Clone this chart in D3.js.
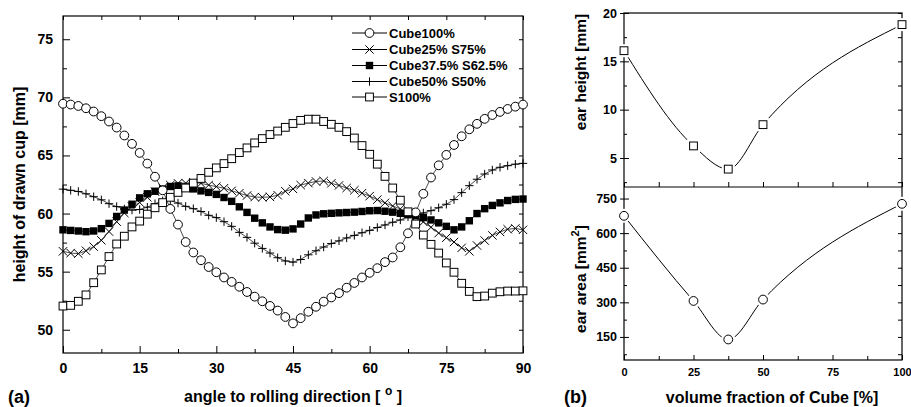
<!DOCTYPE html>
<html>
<head>
<meta charset="utf-8">
<script src="https://cdn.jsdelivr.net/npm/d3@7"></script>
<style>
  body { margin: 0; background: #fff; }
  svg text { font-family: "Liberation Sans", Arial, sans-serif; font-weight: bold; fill: #000; }
</style>
</head>
<body>
<div id="chart"></div>
<script>
// (a) cup height vs angle
var angles = [0,1.5,3,4.5,6,7.5,9,10.5,12,13.5,15,16.5,18,19.5,21,22.5,24,25.5,27,28.5,30,31.5,33,34.5,36,37.5,39,40.5,42,43.5,45,46.5,48,49.5,51,52.5,54,55.5,57,58.5,60,61.5,63,64.5,66,67.5,69,70.5,72,73.5,75,76.5,78,79.5,81,82.5,84,85.5,87,88.5,90];

var cube100 = [69.45,69.38,69.26,69.06,68.78,68.38,67.92,67.4,66.72,66.0,65.22,64.3,63.17,62.0,60.4,59.05,57.55,56.65,55.98,55.4,54.95,54.5,54.12,53.7,53.25,52.85,52.45,52.05,51.65,51.1,50.55,51.0,51.55,51.98,52.42,52.78,53.15,53.62,54.03,54.5,54.9,55.3,55.82,56.22,57.1,58.3,60.1,61.7,63.1,64.15,65.05,65.9,66.65,67.25,67.72,68.15,68.48,68.75,69.0,69.2,69.38];
var cube25 = [56.75,56.6,56.55,56.8,57.15,57.7,58.45,59.3,60.05,60.6,60.95,61.4,61.88,62.2,62.45,62.6,62.62,62.68,62.6,62.45,62.32,62.18,61.96,61.75,61.55,61.42,61.4,61.43,61.58,61.92,62.12,62.45,62.62,62.76,62.8,62.6,62.42,62.2,62.0,61.75,61.5,61.2,60.92,60.65,60.4,60.05,59.68,59.28,58.82,58.32,57.92,57.55,57.05,56.75,57.25,57.68,58.12,58.42,58.65,58.72,58.6];
var cube375 = [58.6,58.55,58.5,58.44,58.5,58.7,59.15,59.75,60.3,60.8,61.35,61.7,61.92,62.1,62.33,62.38,62.28,62.12,61.95,61.82,61.65,61.38,61.05,60.58,60.1,59.6,59.2,58.85,58.62,58.57,58.68,59.1,59.62,59.88,59.98,60.02,60.06,60.09,60.12,60.18,60.24,60.26,60.2,60.12,60.02,59.9,59.82,59.65,59.45,59.2,58.9,58.6,58.85,59.38,60.0,60.42,60.7,60.92,61.12,61.22,61.25];
var cube50 = [62.1,62.0,61.9,61.7,61.45,61.18,60.85,60.6,60.4,60.3,60.35,60.55,60.85,61.1,61.15,60.9,60.62,60.42,60.18,59.85,59.65,59.3,58.9,58.38,57.95,57.45,57.0,56.6,56.2,55.92,55.82,56.05,56.45,56.8,57.12,57.42,57.65,57.9,58.12,58.35,58.55,58.8,59.02,59.25,59.45,59.72,59.9,60.05,60.25,60.5,60.8,61.2,61.8,62.4,62.95,63.4,63.75,63.98,64.12,64.25,64.32];
var s100 = [52.04,52.1,52.45,53.0,54.05,55.15,56.3,57.38,58.05,58.85,59.35,59.95,60.5,60.94,61.4,61.82,62.2,62.62,63.02,63.55,63.93,64.3,64.72,65.25,65.65,66.08,66.45,66.8,67.1,67.42,67.75,68.02,68.12,68.12,67.92,67.68,67.42,67.05,66.5,65.85,65.1,64.25,63.2,62.2,61.15,60.15,59.1,58.15,57.35,56.6,55.75,54.95,54.0,53.3,52.85,52.9,53.15,53.27,53.33,53.33,53.35];

var seriesNames = ["Cube100%", "Cube25% S75%", "Cube37.5% S62.5%", "Cube50% S50%", "S100%"];
var seriesMarks = ["circle", "x", "fsquare", "plus", "square"];
var seriesValues = [cube100, cube25, cube375, cube50, s100];

var xTicksA = [0, 15, 30, 45, 60, 75, 90];
var yTicksA = [50, 55, 60, 65, 70, 75];

// (b) ear height / ear area vs cube fraction
var fractions = [0, 25, 37.5, 50, 100];
var earHeight = [16.1, 6.25, 3.85, 8.45, 18.8];
var earArea = [675, 306, 139, 312, 727];
var xTicksB = [0, 25, 50, 75, 100];
var yTicksHeight = [5, 10, 15, 20];
var yTicksArea = [150, 300, 450, 600, 750];

var W = 911, H = 407;
var svg = d3.select("#chart").append("svg").attr("width", W).attr("height", H);

// marker path drawing
function markPath(type, s) {
    if (type == "x") return "M" + (-s) + "," + (-s) + "L" + s + "," + s + "M" + (-s) + "," + s + "L" + s + "," + (-s);
    if (type == "plus") return "M" + (-s) + ",0L" + s + ",0M0," + (-s) + "L0," + s;
    return null;
}

function drawMark(g, type, x, y) {
    if (type == "circle") {
        g.append("circle").attr("cx", x).attr("cy", y).attr("r", 4.4)
            .attr("fill", "#fff").attr("stroke", "#000").attr("stroke-width", 1);
    }
    else if (type == "square") {
        g.append("rect").attr("x", x - 3.9).attr("y", y - 3.9).attr("width", 7.8).attr("height", 7.8)
            .attr("fill", "#fff").attr("stroke", "#000").attr("stroke-width", 1);
    }
    else if (type == "fsquare") {
        g.append("rect").attr("x", x - 3.7).attr("y", y - 3.7).attr("width", 7.4).attr("height", 7.4)
            .attr("fill", "#000");
    }
    else {
        g.append("path").attr("d", markPath(type, 4.2).toString()).attr("transform", "translate(" + x + "," + y + ")")
            .attr("fill", "none").attr("stroke", "#000").attr("stroke-width", 1);
    }
}

function styleAxis(g, fs) {
    g.select(".domain").remove();
    g.selectAll("line").attr("stroke", "#000").attr("stroke-width", 1);
    g.selectAll("text").style("font-size", fs + "px").style("font-family", "'Liberation Sans', Arial, sans-serif")
        .style("font-weight", "bold").attr("fill", "#000");
}

function range(a, b, step) {
    var out = [];
    for (var v = a; v <= b + 1e-9; v += step) out.push(+v.toFixed(3));
    return out;
}

// ---------------- panel (a) ----------------
var xA = d3.scaleLinear().domain([0, 90]).range([63, 523]);
var yA = d3.scaleLinear().domain([48, 77]).range([353, 16]);

var gA = svg.append("g");

gA.append("rect").attr("x", xA(0)).attr("y", yA(77)).attr("width", xA(90) - xA(0)).attr("height", yA(48) - yA(77))
    .attr("fill", "none").attr("stroke", "#000").attr("stroke-width", 1.2);

var minorXA = range(7.5, 82.5, 15);
var minorYA = range(52.5, 72.5, 5);

var axB = gA.append("g").attr("transform", "translate(0," + yA(48) + ")")
    .call(d3.axisBottom(xA).tickValues(xTicksA).tickSizeInner(-7).tickSizeOuter(0).tickPadding(10).tickFormat(d3.format("d")));
styleAxis(axB, 14);
var axBm = gA.append("g").attr("transform", "translate(0," + yA(48) + ")")
    .call(d3.axisBottom(xA).tickValues(minorXA).tickSizeInner(-4).tickSizeOuter(0).tickFormat(""));
styleAxis(axBm, 14);
var axT = gA.append("g").attr("transform", "translate(0," + yA(77) + ")")
    .call(d3.axisTop(xA).tickValues(xTicksA.concat(minorXA)).tickSizeInner(-4).tickSizeOuter(0).tickFormat(""));
styleAxis(axT, 14);
var axL = gA.append("g").attr("transform", "translate(" + xA(0) + ",0)")
    .call(d3.axisLeft(yA).tickValues(yTicksA).tickSizeInner(-7).tickSizeOuter(0).tickPadding(10).tickFormat(d3.format("d")));
styleAxis(axL, 14);
var axLm = gA.append("g").attr("transform", "translate(" + xA(0) + ",0)")
    .call(d3.axisLeft(yA).tickValues(minorYA).tickSizeInner(-4).tickSizeOuter(0).tickFormat(""));
styleAxis(axLm, 14);
var axR = gA.append("g").attr("transform", "translate(" + xA(90) + ",0)")
    .call(d3.axisRight(yA).tickValues(yTicksA.concat(minorYA)).tickSizeInner(-4).tickSizeOuter(0).tickFormat(""));
styleAxis(axR, 14);

var lineA = d3.line().x(function(d) { return xA(d[0]); }).y(function(d) { return yA(d[1]); });

// draw order so the open markers sit above the filled ones
var order = [2, 3, 1, 0, 4];
order.forEach(function(si) {
    var pts = angles.map(function(a, i) { return [a, seriesValues[si][i]]; });
    gA.append("path").attr("d", lineA(pts)).attr("fill", "none").attr("stroke", "#000").attr("stroke-width", 0.7);
    var gm = gA.append("g");
    pts.forEach(function(p) { drawMark(gm, seriesMarks[si], xA(p[0]), yA(p[1])); });
});

// legend
var legY = [33, 49.5, 65.5, 81.5, 97];
seriesNames.forEach(function(name, i) {
    var gl = gA.append("g");
    gl.append("line").attr("x1", 352).attr("x2", 387).attr("y1", legY[i]).attr("y2", legY[i])
        .attr("stroke", "#000").attr("stroke-width", 1);
    drawMark(gl, seriesMarks[i], 369.5, legY[i]);
    gl.append("text").attr("x", 389).attr("y", legY[i]).attr("dy", "0.36em").style("font-size", "13px").text(name);
});

gA.append("text").attr("transform", "translate(25," + ((yA(48) + yA(77)) / 2) + ") rotate(-90)")
    .attr("text-anchor", "middle").style("font-size", "16px").text("height of drawn cup [mm]");

var xt = gA.append("text").attr("x", (xA(0) + xA(90)) / 2).attr("y", 402).attr("text-anchor", "middle").style("font-size", "16px");
xt.append("tspan").text("angle to rolling direction [ ");
xt.append("tspan").attr("dy", -7).style("font-size", "12px").text("o");
xt.append("tspan").attr("dy", 7).text(" ]");

svg.append("text").attr("x", 8).attr("y", 403).style("font-size", "18px").text("(a)");

// ---------------- panel (b) ----------------
var xB = d3.scaleLinear().domain([0, 100]).range([624, 902]);
var yH = d3.scaleLinear().domain([2, 20]).range([187, 13]);
var yS = d3.scaleLinear().domain([50, 800]).range([360, 187]);

var gB = svg.append("g");
gB.append("rect").attr("x", xB(0)).attr("y", yH(20)).attr("width", xB(100) - xB(0)).attr("height", yS(50) - yH(20))
    .attr("fill", "none").attr("stroke", "#000").attr("stroke-width", 1.2);
gB.append("line").attr("x1", xB(0)).attr("x2", xB(100)).attr("y1", yH(2)).attr("y2", yH(2))
    .attr("stroke", "#000").attr("stroke-width", 1.2);

var minorXB = range(12.5, 87.5, 25);
var bxB = gB.append("g").attr("transform", "translate(0," + yS(50) + ")")
    .call(d3.axisBottom(xB).tickValues(xTicksB).tickSizeInner(-5).tickSizeOuter(0).tickPadding(8).tickFormat(d3.format("d")));
styleAxis(bxB, 11);
var bxBm = gB.append("g").attr("transform", "translate(0," + yS(50) + ")")
    .call(d3.axisBottom(xB).tickValues(minorXB).tickSizeInner(-4).tickSizeOuter(0).tickFormat(""));
styleAxis(bxBm, 11);
var bxMid = gB.append("g").attr("transform", "translate(0," + yH(2) + ")")
    .call(d3.axisBottom(xB).tickValues(xTicksB.concat(minorXB)).tickSizeInner(-5).tickSizeOuter(0).tickFormat(""));
styleAxis(bxMid, 11);

var minorH = range(2.5, 17.5, 5);
var minorS = range(75, 675, 150);

var byH = gB.append("g").attr("transform", "translate(" + xB(0) + ",0)")
    .call(d3.axisLeft(yH).tickValues(yTicksHeight).tickSizeInner(4).tickSizeOuter(0).tickPadding(3).tickFormat(d3.format("d")));
styleAxis(byH, 12.5);
byH.selectAll("line").attr("x2", 5).attr("x1", -4);
var byHm = gB.append("g").attr("transform", "translate(" + xB(0) + ",0)")
    .call(d3.axisLeft(yH).tickValues(minorH).tickSizeInner(-3).tickSizeOuter(0).tickFormat(""));
styleAxis(byHm, 12);
var byHr = gB.append("g").attr("transform", "translate(" + xB(100) + ",0)")
    .call(d3.axisRight(yH).tickValues(yTicksHeight.concat(minorH)).tickSizeInner(-4).tickSizeOuter(0).tickFormat(""));
styleAxis(byHr, 12);

var byS = gB.append("g").attr("transform", "translate(" + xB(0) + ",0)")
    .call(d3.axisLeft(yS).tickValues(yTicksArea).tickSizeInner(4).tickSizeOuter(0).tickPadding(3).tickFormat(d3.format("d")));
styleAxis(byS, 12.5);
byS.selectAll("line").attr("x2", 5).attr("x1", -4);
var bySm = gB.append("g").attr("transform", "translate(" + xB(0) + ",0)")
    .call(d3.axisLeft(yS).tickValues(minorS).tickSizeInner(-3).tickSizeOuter(0).tickFormat(""));
styleAxis(bySm, 12);
var bySr = gB.append("g").attr("transform", "translate(" + xB(100) + ",0)")
    .call(d3.axisRight(yS).tickValues(yTicksArea.concat(minorS)).tickSizeInner(-4).tickSizeOuter(0).tickFormat(""));
styleAxis(bySr, 12);

function drawFit(yScale, values, mark) {
    var pts = fractions.map(function(f, i) { return [f, values[i]]; });
    var ln = d3.line().curve(d3.curveMonotoneX).x(function(d) { return xB(d[0]); }).y(function(d) { return yScale(d[1]); });
    gB.append("path").attr("d", ln(pts)).attr("fill", "none").attr("stroke", "#000").attr("stroke-width", 1);
    var gm = gB.append("g");
    pts.forEach(function(p) {
        // white halo leaves the small gap around each marker
        if (mark == "circle") gm.append("circle").attr("cx", xB(p[0])).attr("cy", yScale(p[1])).attr("r", 7).attr("fill", "#fff");
        else gm.append("rect").attr("x", xB(p[0]) - 6.5).attr("y", yScale(p[1]) - 6.5).attr("width", 13).attr("height", 13).attr("fill", "#fff");
    });
    pts.forEach(function(p) { drawMark(gm, mark, xB(p[0]), yScale(p[1])); });
}
drawFit(yH, earHeight, "square");
drawFit(yS, earArea, "circle");

gB.append("text").attr("transform", "translate(586,72) rotate(-90)").attr("text-anchor", "middle")
    .style("font-size", "15.5px").text("ear height [mm]");
var ea = gB.append("text").attr("transform", "translate(586,279) rotate(-90)").attr("text-anchor", "middle")
    .style("font-size", "15.5px");
ea.append("tspan").text("ear area [mm");
ea.append("tspan").attr("dy", -7).style("font-size", "11px").text("2");
ea.append("tspan").attr("dy", 7).text("]");

gB.append("text").attr("x", 772).attr("y", 403).attr("text-anchor", "middle").style("font-size", "16px")
    .text("volume fraction of Cube [%]");
svg.append("text").attr("x", 564).attr("y", 403).style("font-size", "18px").text("(b)");
</script>
</body>
</html>
